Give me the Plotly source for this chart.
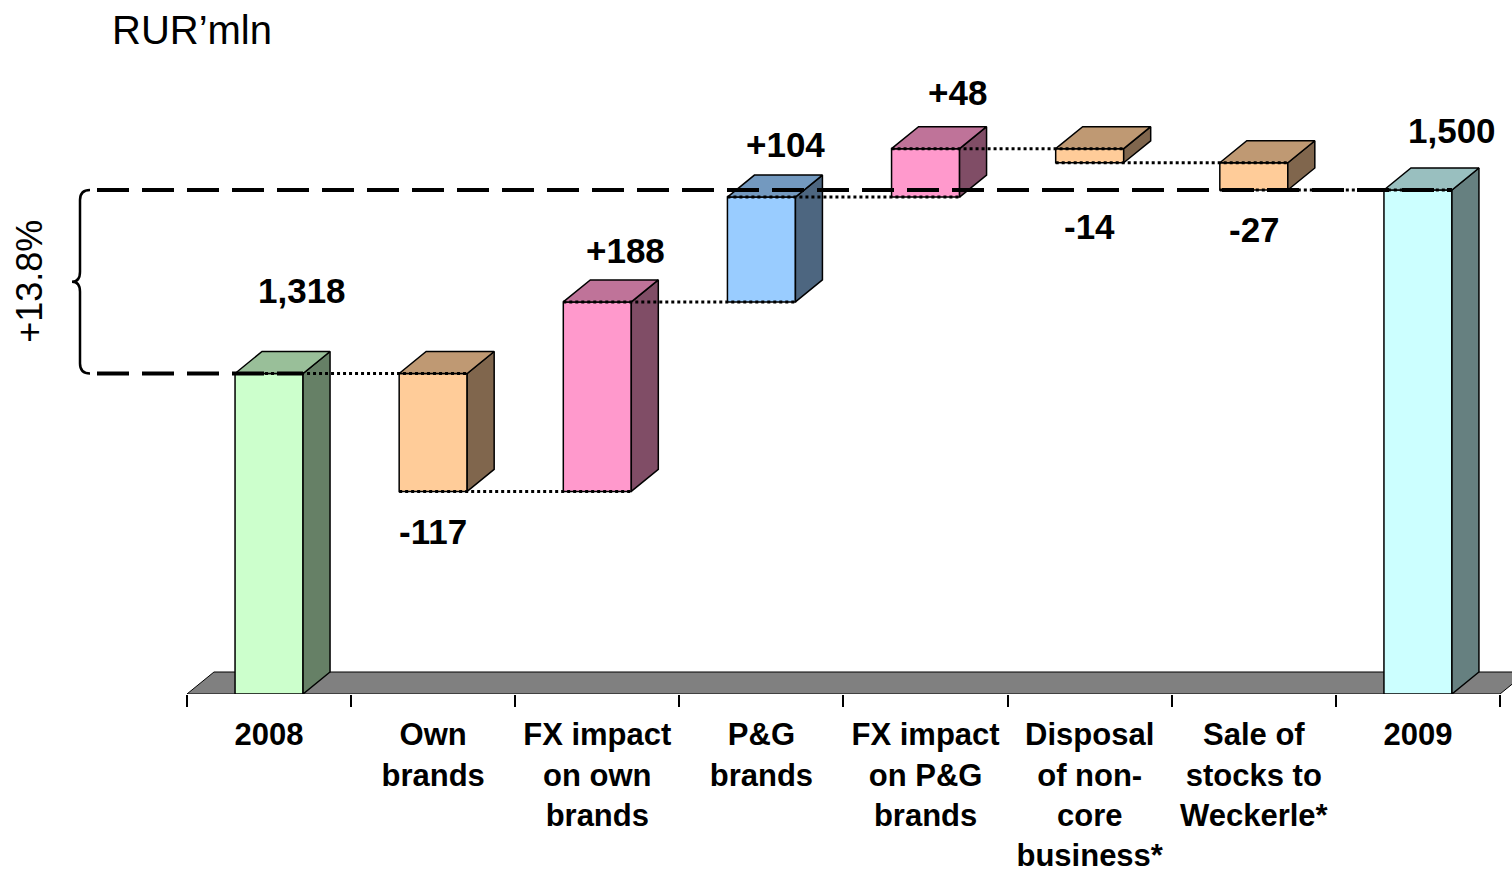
"""3D-style waterfall: revenue bridge 2008 -> 2009, RUR'mln."""

import plotly.graph_objects as go

CATEGORIES = [
    "2008",
    "Own<br>brands",
    "FX impact<br>on own<br>brands",
    "P&G<br>brands",
    "FX impact<br>on P&G<br>brands",
    "Disposal<br>of non-<br>core<br>business*",
    "Sale of<br>stocks to<br>Weckerle*",
    "2009",
]
VALUES = [1318, -117, 188, 104, 48, -14, -27, 1500]
VALUE_LABELS = ["1,318", "-117", "+188", "+104", "+48", "-14", "-27", "1,500"]
IS_TOTAL = [True, False, False, False, False, False, False, True]
GROWTH_LABEL = "+13.8%"
UNIT_LABEL = "RUR’mln"
AXIS_BASE = 1000

# front / top / side colours per bar
GREEN = ("#CCFFCC", "#99BF99", "#668066")
PEACH = ("#FFCC99", "#BF9973", "#80664D")
PINK = ("#FF99CC", "#BF7399", "#804D66")
BLUE = ("#99CCFF", "#7399BF", "#4D6680")
CYAN = ("#CCFFFF", "#99BFBF", "#668080")
BAR_COLORS = [GREEN, PEACH, PINK, BLUE, PINK, PEACH, PEACH, CYAN]

# label offsets in px (x, y) from the bar edge they hang on
LABEL_SHIFT = [(33, 83), (0, -40), (28, 51), (24, 53), (32, 56), (0, -64), (1, -39), (34, 60)]

FONT = "Liberation Sans, Arial, sans-serif"

# geometry (plot area 1327 x 694 px)
MARGIN_L, MARGIN_B = 185, 178
PLOT_W, PLOT_H = 1512 - MARGIN_L, 872 - MARGIN_B
X_MIN, X_MAX = -0.512, 7.573
PX_PER_X = PLOT_W / (X_MAX - X_MIN)
PX_PER_Y = 1.008
Y_MAX = AXIS_BASE + PLOT_H / PX_PER_Y
HALF_W = 34 / PX_PER_X
DX = 27 / PX_PER_X
DY = 22 / PX_PER_Y


def px_to_paper(px):
    return (px - MARGIN_L) / PLOT_W


def x_to_paper(x):
    return (x - X_MIN) / (X_MAX - X_MIN)


# running levels
lows, highs, levels = [], [], []
level = AXIS_BASE
for v, total in zip(VALUES, IS_TOTAL):
    if total:
        lo, hi, level = AXIS_BASE, v, v
    else:
        new = level + v
        lo, hi, level = min(level, new), max(level, new), new
    lows.append(lo)
    highs.append(hi)
    levels.append(level)

xs = list(range(len(CATEGORIES)))

fig = go.Figure()

# front faces
fig.add_trace(
    go.Bar(
        x=xs,
        y=[h - l for h, l in zip(highs, lows)],
        base=lows,
        width=2 * HALF_W,
        marker=dict(color=[c[0] for c in BAR_COLORS], line=dict(color="black", width=1.5)),
        hoverinfo="skip",
    )
)

# side and top faces
for i, (lo, hi, col) in enumerate(zip(lows, highs, BAR_COLORS)):
    r = i + HALF_W
    l = i - HALF_W
    fig.add_trace(
        go.Scatter(
            x=[r, r + DX, r + DX, r, r],
            y=[lo, lo + DY, hi + DY, hi, lo],
            mode="lines",
            fill="toself",
            fillcolor=col[2],
            line=dict(color="black", width=1.5),
            hoverinfo="skip",
        )
    )
    fig.add_trace(
        go.Scatter(
            x=[l, l + DX, r + DX, r, l],
            y=[hi, hi + DY, hi + DY, hi, hi],
            mode="lines",
            fill="toself",
            fillcolor=col[1],
            line=dict(color="black", width=1.5),
            hoverinfo="skip",
        )
    )

# dotted connectors between bars
cx, cy = [], []
for i in range(len(xs) - 1):
    cx += [i - HALF_W, i + 1 + HALF_W, None]
    cy += [levels[i], levels[i], None]
fig.add_trace(
    go.Scatter(x=cx, y=cy, mode="lines", line=dict(color="black", width=3, dash="dot"), hoverinfo="skip")
)

# value labels
for i, (lab, v, lo, hi, (sx, sy)) in enumerate(zip(VALUE_LABELS, VALUES, lows, highs, LABEL_SHIFT)):
    fig.add_annotation(
        x=i,
        y=lo if v < 0 else hi,
        text=lab,
        showarrow=False,
        xanchor="center",
        yanchor="middle",
        xshift=sx,
        yshift=sy,
        font=dict(family=FONT, size=35, color="black", weight="bold"),
    )

# floor
x0, x1 = -0.5, len(xs) - 0.5
fig.add_shape(
    type="path",
    path=f"M {x0},{AXIS_BASE} L {x1},{AXIS_BASE} L {x1 + DX},{AXIS_BASE + DY} L {x0 + DX},{AXIS_BASE + DY} Z",
    xref="x",
    yref="y",
    fillcolor="#808080",
    line=dict(color="black", width=1),
    layer="below",
)

# dashed reference lines at the two totals
start, end = VALUES[0], VALUES[-1]
for val, xe in [(start, 0 + HALF_W), (end, len(xs) - 1 + HALF_W)]:
    fig.add_shape(
        type="line",
        xref="paper",
        yref="y",
        x0=px_to_paper(97),
        x1=x_to_paper(xe),
        y0=val,
        y1=val,
        line=dict(color="black", width=4, dash="32px,13px"),
        layer="above",
    )

# curly brace
mid = (start + end) / 2
rr = 10 / PX_PER_Y
p = px_to_paper
brace = (
    f"M {p(90)},{end} Q {p(80)},{end} {p(80)},{end - rr} "
    f"L {p(80)},{mid + rr} Q {p(80)},{mid} {p(72)},{mid} "
    f"Q {p(80)},{mid} {p(80)},{mid - rr} "
    f"L {p(80)},{start + rr} Q {p(80)},{start} {p(90)},{start}"
)
fig.add_shape(type="path", path=brace, xref="paper", yref="y", line=dict(color="black", width=2.5))

fig.add_annotation(
    x=px_to_paper(30),
    y=mid,
    xref="paper",
    yref="y",
    text=GROWTH_LABEL,
    textangle=-90,
    xanchor="center",
    yanchor="middle",
    showarrow=False,
    font=dict(family=FONT, size=36, color="black"),
)
fig.add_annotation(
    x=px_to_paper(110),
    y=1 - 30 / PLOT_H,
    xref="paper",
    yref="paper",
    text=UNIT_LABEL,
    xanchor="left",
    yanchor="middle",
    showarrow=False,
    font=dict(family=FONT, size=40, color="black"),
)

fig.update_layout(
    width=1512,
    height=872,
    margin=dict(l=MARGIN_L, r=0, t=0, b=MARGIN_B),
    paper_bgcolor="white",
    plot_bgcolor="white",
    showlegend=False,
    xaxis=dict(
        range=[X_MIN, X_MAX],
        automargin=False,
        tickmode="array",
        tickvals=xs,
        ticktext=CATEGORIES,
        ticks="outside",
        ticklen=13,
        tickcolor="rgba(0,0,0,0)",
        showgrid=False,
        zeroline=False,
        showline=False,
        tickfont=dict(family=FONT, size=31, color="black", weight="bold"),
        minor=dict(
            tickmode="array",
            tickvals=[i - 0.5 for i in range(len(xs) + 1)],
            ticks="outside",
            ticklen=12,
            tickwidth=1.5,
            tickcolor="black",
            showgrid=False,
        ),
        fixedrange=True,
    ),
    yaxis=dict(range=[AXIS_BASE, Y_MAX], visible=False, automargin=False, fixedrange=True),
)

fig.write_html(
    "out.html",
    config={"displayModeBar": False},
    post_script="document.body.style.margin='0';",
)
